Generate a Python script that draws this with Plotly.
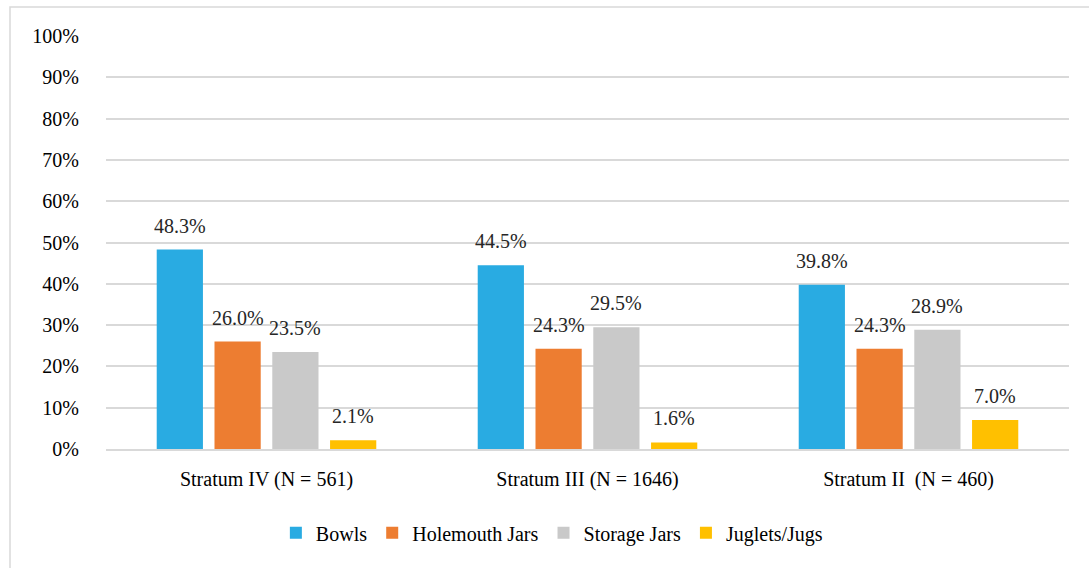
import plotly.graph_objects as go

categories = ["Stratum IV (N = 561)", "Stratum III (N = 1646)", "Stratum II  (N = 460)"]
series_names = ["Bowls", "Holemouth Jars", "Storage Jars", "Juglets/Jugs"]
bowls = [48.3, 44.5, 39.8]
holemouth = [26.0, 24.3, 24.3]
storage = [23.5, 29.5, 28.9]
juglets = [2.1, 1.6, 7.0]
colors = ["#29abe2", "#ed7d31", "#c9c9c9", "#ffc000"]
y_tick_vals = [0, 10, 20, 30, 40, 50, 60, 70, 80, 90, 100]
y_tick_text = ["0%", "10%", "20%", "30%", "40%", "50%", "60%", "70%", "80%", "90%", "100%"]

values = [bowls, holemouth, storage, juglets]
FONT = "Liberation Serif"

L, R, T, B = 106, 20, 36, 119
W, H = 1089, 568
plot_w = W - L - R
plot_h = H - T - B
bargap = 0.28
slot = plot_w / len(categories) * (1 - bargap) / len(series_names)

fig = go.Figure()
for i, (name, vals, col) in enumerate(zip(series_names, values, colors)):
    fig.add_trace(go.Bar(
        x=categories, y=vals, name=name,
        marker=dict(color=col, line=dict(width=0)),
    ))
    for c, v in zip(categories, vals):
        fig.add_annotation(
            x=c, y=v, xref="x", yref="y", text=f"{v:.1f}%", showarrow=False,
            xanchor="center", yanchor="bottom", yshift=11,
            xshift=(i - 1.5) * slot,
            font=dict(family=FONT, size=20, color="#262626"),
        )

fig.update_layout(
    width=W, height=H,
    margin=dict(l=L, r=R, t=T, b=B),
    paper_bgcolor="white", plot_bgcolor="white",
    barmode="group", bargap=bargap, bargroupgap=0.2,
    font=dict(family=FONT, size=20, color="#000000"),
    showlegend=True,
    legend=dict(orientation="h", x=0.463, xanchor="center", y=-0.203, yanchor="middle",
                font=dict(size=20, family=FONT), traceorder="normal"),
    xaxis=dict(showline=True, linecolor="#d9d9d9", linewidth=1.5,
               tickfont=dict(size=20, family=FONT), ticks="outside", ticklen=11,
               tickcolor="rgba(0,0,0,0)"),
    yaxis=dict(range=[0, 100], tickmode="array", tickvals=y_tick_vals, ticktext=y_tick_text,
               showgrid=True, gridcolor="#d9d9d9", gridwidth=1.5, zeroline=False, showline=False,
               tickfont=dict(size=20, family=FONT), ticks="outside", ticklen=22,
               tickcolor="rgba(0,0,0,0)"),
)

fig.add_shape(type="rect", xref="paper", yref="paper",
              x0=(10 - L) / plot_w, x1=1.2, y0=-0.5, y1=1 + (T - 7) / plot_h,
              line=dict(color="#d9d9d9", width=1.5), fillcolor="rgba(0,0,0,0)", layer="below")

fig.write_html("out.html", config={"displayModeBar": False},
               post_script="document.body.style.margin='0';document.body.style.overflow='hidden';")
